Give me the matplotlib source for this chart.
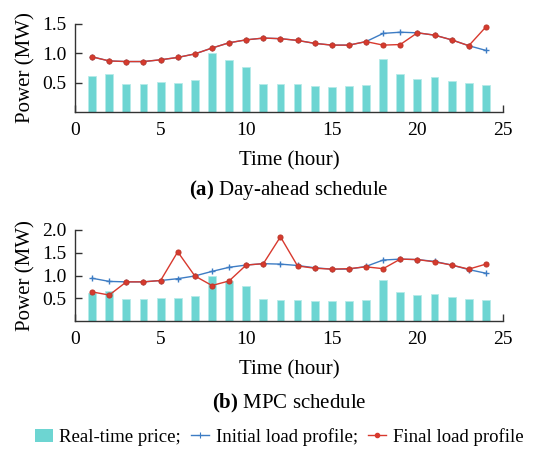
import matplotlib
matplotlib.use("Agg")
import matplotlib.pyplot as plt
from matplotlib.patches import Patch
from matplotlib.lines import Line2D

plt.rcParams['font.family'] = ['Liberation Serif', 'DejaVu Serif']
plt.rcParams['mathtext.fontset'] = 'custom'
plt.rcParams['mathtext.rm'] = 'Liberation Serif'
plt.rcParams['mathtext.bf'] = 'Liberation Serif:bold'

hours = list(range(1, 25))
price = [0.61, 0.65, 0.48, 0.48, 0.51, 0.50, 0.54, 1.00, 0.88, 0.76, 0.48, 0.47,
         0.47, 0.45, 0.43, 0.44, 0.46, 0.91, 0.64, 0.57, 0.60, 0.53, 0.49, 0.46]
initial_load = [0.94, 0.87, 0.86, 0.86, 0.89, 0.93, 0.99, 1.09, 1.18, 1.23, 1.26, 1.25,
                1.22, 1.17, 1.14, 1.14, 1.20, 1.34, 1.36, 1.35, 1.31, 1.23, 1.13, 1.05]
final_load_a = [0.94, 0.87, 0.86, 0.86, 0.89, 0.93, 0.99, 1.09, 1.18, 1.23, 1.26, 1.25,
                1.22, 1.17, 1.14, 1.14, 1.20, 1.14, 1.15, 1.35, 1.31, 1.23, 1.13, 1.45]
final_load_b = [0.64, 0.57, 0.86, 0.86, 0.89, 1.52, 0.99, 0.78, 0.88, 1.23, 1.26, 1.85,
                1.21, 1.16, 1.14, 1.15, 1.19, 1.15, 1.36, 1.35, 1.30, 1.23, 1.14, 1.25]
xticks = [0, 5, 10, 15, 20, 25]
yticks_a = [0.5, 1.0, 1.5]
yticks_b = [0.5, 1.0, 1.5, 2.0]

bar_color = '#6dd5d2'
blue = '#3d7cc4'
red = '#d8392e'

fig = plt.figure(figsize=(5.37, 4.51), dpi=100)
W, H = 537, 451

def make_ax(top, bottom):
    return fig.add_axes([75 / W, 1 - bottom / H, 428 / W, (bottom - top) / H])

def style(ax, ymax, yticks, final):
    ax.bar(hours, price, width=0.46, color=bar_color, edgecolor='#b5ebe9', linewidth=0.6, zorder=1)
    ax.plot(hours, initial_load, color=blue, lw=1.0, marker='+', ms=5, mew=1.0, zorder=3)
    ax.plot(hours, final, color=red, lw=1.0, marker='o', ms=3.6, mfc=red, mec='#c0392b',
            mew=0.8, zorder=4)
    ax.set_xlim(0, 25)
    ax.set_ylim(0, ymax)
    ax.set_xticks(xticks)
    ax.set_yticks(yticks)
    ax.set_yticklabels([f"{v:.1f}" for v in yticks])
    ax.spines['top'].set_visible(False)
    ax.spines['right'].set_visible(False)
    for s in ('left', 'bottom'):
        ax.spines[s].set_color('#333333')
        ax.spines[s].set_linewidth(1.0)
    ax.set_axisbelow(True)
    ax.tick_params(direction='in', length=5, width=1.0, color='#333333', labelsize=14)
    ax.tick_params(axis='x', pad=7)
    ax.tick_params(axis='y', pad=6)
    ax.set_ylabel('Power (MW)', fontsize=15, labelpad=5)
    ax.set_xlabel('Time (hour)', fontsize=15, labelpad=9)

ax1 = make_ax(24, 112)
style(ax1, 1.5, yticks_a, final_load_a)
ax2 = make_ax(230, 321)
style(ax2, 2.0, yticks_b, final_load_b)

cx = 289 / W
fig.text(cx, 1 - 190 / H, r'$\mathbf{(a)}$ Day-ahead schedule', ha='center', va='center', fontsize=15)
fig.text(cx, 1 - 403 / H, r'$\mathbf{(b)}$ MPC schedule', ha='center', va='center', fontsize=15)

handles = [Patch(facecolor=bar_color, edgecolor='none'),
           Line2D([], [], color=blue, lw=1.0, marker='+', ms=4, mew=0.8),
           Line2D([], [], color=red, lw=1.0, marker='o', ms=3, mfc=red, mec=red)]
labels = ['Real-time price;', 'Initial load profile;', 'Final load profile']
fig.legend(handles, labels, loc='center left', bbox_to_anchor=(35 / W, 1 - 437 / H), ncol=3,
           frameon=False, fontsize=13.5, handlelength=0.95, handletextpad=0.35,
           columnspacing=0.55, borderpad=0, borderaxespad=0)

fig.savefig('out.png', dpi=100)
